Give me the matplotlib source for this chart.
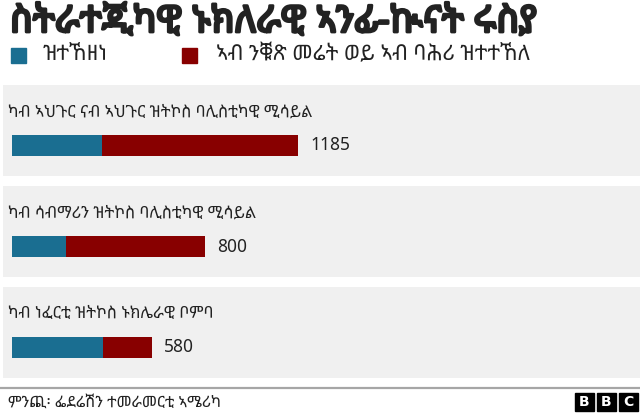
import matplotlib
matplotlib.use("Agg")
import matplotlib.pyplot as plt
import matplotlib.patheffects as pe
from matplotlib import font_manager
from matplotlib.patches import Rectangle
from matplotlib.transforms import blended_transform_factory
import numpy as np

# Ethiopic glyphs live in Noto Sans Ethiopic, register it if it is there
for f in font_manager.findSystemFonts():
    if "NotoSansEthiopic" in f:
        font_manager.fontManager.addfont(f)
plt.rcParams["font.family"] = ["Noto Sans Ethiopic", "Noto Sans", "DejaVu Sans"]

title = "ስትራተጂካዊ ኑክለራዊ ኣንፊ-ኲናት ሩስያ"
series_names = ["ዝተኸዘነ", "ኣብ ንቑጽ መሬት ወይ ኣብ ባሕሪ ዝተተኸለ"]
categories = [
    "ካብ ኣህጉር ናብ ኣህጉር ዝትኮስ ባሊስቲካዊ ሚሳይል",
    "ካብ ሳብማሪን ዝትኮስ ባሊስቲካዊ ሚሳይል",
    "ካብ ነፈርቲ ዝትኮስ ኑክሌራዊ ቦምባ",
]
stored = [373, 224, 380]
deployed = [812, 576, 200]
source = "ምንጪ፡ ፌደሬሽን ተመራመርቲ ኣሜሪካ"

blue = "#1a6e91"
red = "#880000"
panel = "#f0f0f0"

W, H = 640, 418
fig = plt.figure(figsize=(W / 100, H / 100), dpi=100)
fig.patch.set_facecolor("white")

# one axes over the whole figure, x in warheads, y in rows (101 px apart)
px_per_unit = 0.2418
x0 = 11.5
row0, row_gap = 145.5, 101
ax = fig.add_axes([0, 0, 1, 1])
ax.set_xlim(-x0 / px_per_unit, (W - x0) / px_per_unit)
ax.set_ylim((H - row0) / row_gap, -row0 / row_gap)
ax.axis("off")

y = np.arange(len(categories))
total = np.array(stored) + np.array(deployed)

for i in y:
    ax.axhspan(i - 0.6, i + 0.3, xmin=3 / W, xmax=1, color=panel, lw=0, zorder=0)

ax.barh(y, stored, height=0.21, color=blue, zorder=2)
ax.barh(y, deployed, left=stored, height=0.21, color=red, zorder=2)

tr = blended_transform_factory(fig.transFigure, ax.transData)
for i, (cat, t) in enumerate(zip(categories, total)):
    ax.text(8 / W, i - 0.33, cat, transform=tr, fontsize=11.8,
            va="center", ha="left", color="#222222")
    ax.annotate(f"{t}", (t, i), xytext=(9, 0), textcoords="offset points",
                va="center", ha="left", fontsize=12.5, color="#222222")

# title and legend
fig.text(10 / W, 1 - 23 / H, title, fontsize=26.6, va="center", ha="left",
         color="#222222",
         path_effects=[pe.withStroke(linewidth=2, foreground="#222222")])
for x_sq, x_txt, name, c in [(11, 43, series_names[0], blue),
                             (182, 216, series_names[1], red)]:
    fig.patches.append(Rectangle((x_sq / W, 1 - 63 / H), 15 / W, 15 / H,
                                 transform=fig.transFigure, color=c))
    fig.text(x_txt / W, 1 - 55 / H, name, fontsize=15.3, va="center",
             ha="left", color="#222222")

# footer
fig.add_artist(plt.Line2D([0, 1], [1 - 388 / H] * 2, color="#a6a6a6", lw=1.6,
                          transform=fig.transFigure))
fig.text(8 / W, 1 - 403 / H, source, fontsize=11.3, va="center", ha="left",
         color="#222222")
for k, letter in enumerate("BBC"):
    xl = 575 + k * 22
    fig.patches.append(Rectangle((xl / W, 1 - 411 / H), 19 / W, 18 / H,
                                 transform=fig.transFigure, color="black"))
    fig.text((xl + 9.5) / W, 1 - 402 / H, letter, fontsize=10,
             fontweight="bold", family="DejaVu Sans", color="white",
             va="center", ha="center")

fig.savefig("out.png", dpi=100)
